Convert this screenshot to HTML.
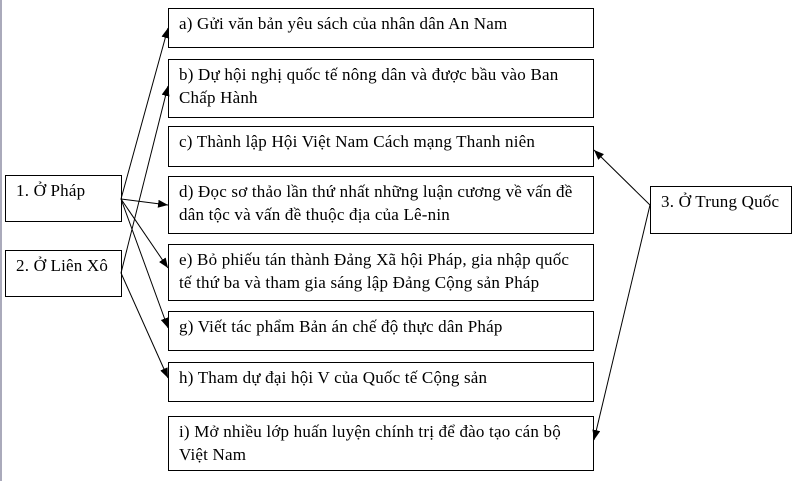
<!DOCTYPE html>
<html><head><meta charset="utf-8"><style>
body{margin:0;width:799px;height:481px;background:#fff;position:relative;overflow:hidden;font-family:"Liberation Serif",serif;font-size:17px;letter-spacing:0.2px;color:#000}
.b{position:absolute;border:1px solid #000;box-sizing:border-box;padding:3px 0 0 10px;line-height:23px;background:#fff;white-space:nowrap}
svg{position:absolute;left:0;top:0}
</style></head><body>
<div style="position:absolute;left:0;top:0;width:2px;height:481px;background:#aab"></div>
<div class="b" style="left:168px;top:8px;width:426px;height:40px">a) Gửi văn bản yêu sách của nhân dân An Nam</div>
<div class="b" style="left:168px;top:59px;width:426px;height:59px">b) Dự hội nghị quốc tế nông dân và được bầu vào Ban<br>Chấp Hành</div>
<div class="b" style="left:168px;top:126px;width:426px;height:41px">c) Thành lập Hội Việt Nam Cách mạng Thanh niên</div>
<div class="b" style="left:168px;top:176px;width:426px;height:58px">d) Đọc sơ thảo lần thứ nhất những luận cương về vấn đề<br>dân tộc và vấn đề thuộc địa của Lê-nin</div>
<div class="b" style="left:168px;top:244px;width:426px;height:57px">e) Bỏ phiếu tán thành Đảng Xã hội Pháp, gia nhập quốc<br>tế thứ ba và tham gia sáng lập Đảng Cộng sản Pháp</div>
<div class="b" style="left:168px;top:311px;width:426px;height:40px">g) Viết tác phẩm Bản án chế độ thực dân Pháp</div>
<div class="b" style="left:168px;top:362px;width:426px;height:40px">h) Tham dự đại hội V của Quốc tế Cộng sản</div>
<div class="b" style="left:168px;top:416px;width:426px;height:55px">i) Mở nhiều lớp huấn luyện chính trị để đào tạo cán bộ<br>Việt Nam</div>
<div class="b" style="left:5px;top:175px;width:117px;height:47px">1. Ở Pháp</div>
<div class="b" style="left:5px;top:250px;width:117px;height:47px">2. Ở Liên Xô</div>
<div class="b" style="left:650px;top:186px;width:142px;height:48px">3. Ở Trung Quốc</div>
<svg width="799" height="481">
<defs><marker id="m" markerWidth="10" markerHeight="8" refX="10" refY="4" orient="auto" markerUnits="userSpaceOnUse"><path d="M0,0L10,4L0,8z" fill="#000"/></marker></defs>
<g stroke="#000" stroke-width="1" marker-end="url(#m)">
<line x1="121" y1="199" x2="168" y2="28"/>
<line x1="121" y1="199" x2="168" y2="205"/>
<line x1="121" y1="199" x2="168" y2="268"/>
<line x1="121" y1="199" x2="168" y2="328"/>
<line x1="121" y1="273" x2="168" y2="86"/>
<line x1="121" y1="273" x2="168" y2="378"/>
<line x1="650" y1="205" x2="594" y2="150"/>
<line x1="650" y1="205" x2="594" y2="440"/>
</g></svg>
</body></html>
